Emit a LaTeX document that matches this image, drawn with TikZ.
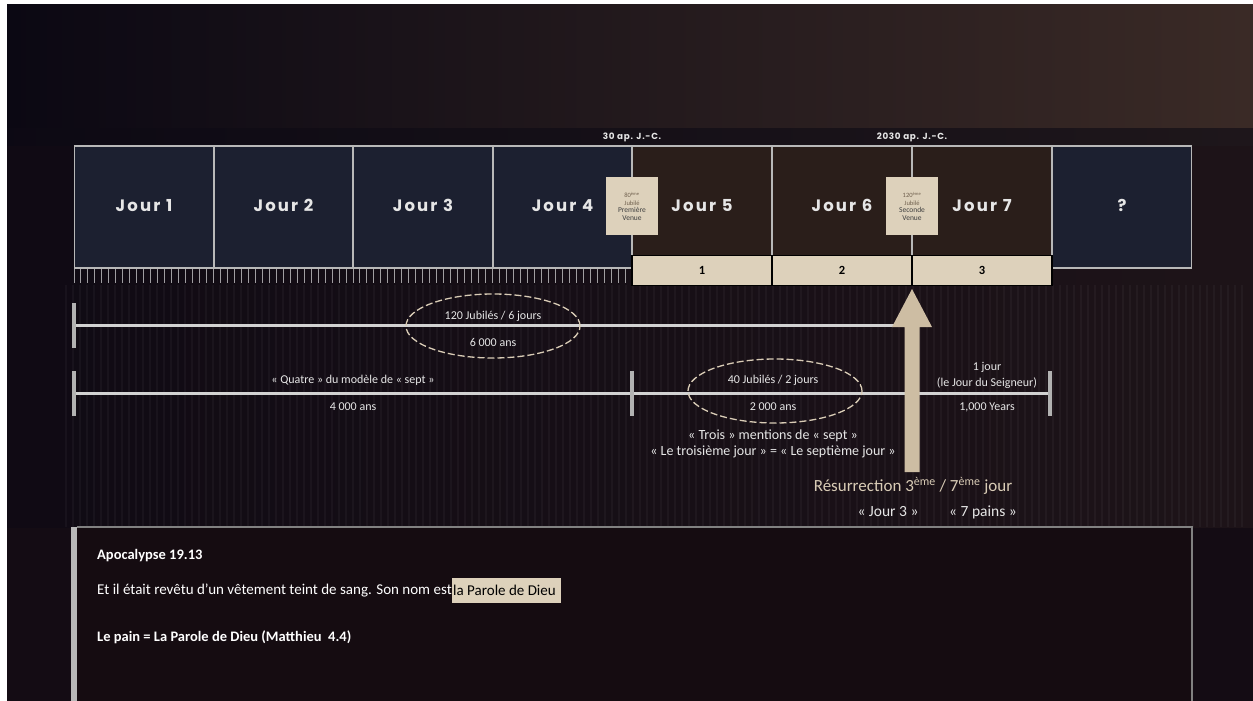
\documentclass[tikz,border=0pt]{standalone}
\usepackage{fontspec}
\setmainfont{Carlito}
\newfontfamily\jourfont[LetterSpace=13]{Poppins}
\newfontfamily\datefont[LetterSpace=8]{Poppins}
\definecolor{bgmain}{HTML}{140C14}
\definecolor{bgleft}{HTML}{0B0813}
\definecolor{bgright}{HTML}{3A2A26}
\definecolor{bandc}{HTML}{120E16}
\definecolor{navyc}{HTML}{1C2030}
\definecolor{brownc}{HTML}{2A1E1A}
\definecolor{framec}{HTML}{B8B8B8}
\definecolor{tanc}{HTML}{DDD1BB}
\definecolor{arrowc}{HTML}{CDBDA3}
\definecolor{txtc}{HTML}{E6E6E6}
\definecolor{resc}{HTML}{D9CCB6}
\definecolor{linec}{HTML}{D2D2D2}
\definecolor{panelc}{HTML}{150C11}
\definecolor{smalltxt}{HTML}{6E5E4C}
\tikzset{
  daybox/.style={draw=framec, line width=1.6pt, minimum width=139pt, minimum height=122pt, inner sep=0pt},
  jourlabel/.style={text=txtc, text height=12pt, text depth=4pt, font=\jourfont\bfseries\fontsize{16.5}{19}\selectfont},
  venuebox/.style={fill=tanc, minimum width=52pt, minimum height=58pt, inner sep=1pt, align=center, text=smalltxt, font=\fontsize{6.5}{7.5}\selectfont},
  numbox/.style={draw=black, fill=tanc, line width=1.4pt, minimum width=140pt, minimum height=30pt, inner sep=0pt, font=\bfseries\fontsize{12.5}{14}\selectfont},
  datelabel/.style={text=txtc, font=\datefont\bfseries\fontsize{8.8}{10}\selectfont},
  lbl/.style={text=txtc, font=\fontsize{12}{14}\selectfont, inner sep=0pt},
  midlbl/.style={text=txtc, font=\fontsize{14}{16}\selectfont, inner sep=0pt},
  timeline/.style={draw=linec, line width=3pt},
  endtick/.style={draw=linec!85!black, line width=3.5pt},
  jubel/.style={draw=resc, line width=1.3pt, dash pattern=on 7pt off 3pt, ellipse, minimum width=174pt, minimum height=64pt},
  paneltxt/.style={text=white, anchor=west, inner sep=0pt},
}
\usetikzlibrary{shapes.geometric}
\begin{document}
\begin{tikzpicture}[x=1pt,y=-1pt]
\useasboundingbox (0,0) rectangle (1253,701);
% background
\fill[white] (0,0) rectangle (1253,701);
\fill[bgmain] (7,5) rectangle (1253,701);
\shade[left color=bgleft, right color=bgright] (7,5) rectangle (1253,128);
\shade[left color=bgleft!80!bandc, right color=bandc!70!bgright] (7,128) rectangle (1253,146);
\shade[left color=bgleft!50!bgmain, right color=bgmain!75!bgright] (7,146) rectangle (1253,527);
% faint vertical stripes
\foreach \i in {0,...,168} \draw[white, opacity=0.035, line width=1.6pt] ({66+\i*7},285) -- ++(0,242);
% day boxes
\node[daybox, fill=navyc] (d1) at (144,207) {};
\node[daybox, fill=navyc] (d2) at (283.5,207) {};
\node[daybox, fill=navyc] (d3) at (423,207) {};
\node[daybox, fill=navyc] (d4) at (562.5,207) {};
\node[daybox, fill=brownc] (d5) at (702,207) {};
\node[daybox, fill=brownc] (d6) at (842,207) {};
\node[daybox, fill=brownc] (d7) at (982,207) {};
\node[daybox, fill=navyc] (dq) at (1122,207) {};
\node[jourlabel] (j1) at (d1) {Jour 1};
\node[jourlabel] (j2) at (d2) {Jour 2};
\node[jourlabel] (j3) at (d3) {Jour 3};
\node[jourlabel] (j4) at (d4) {Jour 4};
\node[jourlabel] (j5) at (d5) {Jour 5};
\node[jourlabel] (j6) at (d6) {Jour 6};
\node[jourlabel] (j7) at (d7) {Jour 7};
\node[jourlabel] (jq) at (dq) {?};
% date labels
\node[datelabel] (t30) at (632,137) {30 ap. J.-C.};
\node[datelabel] (t2030) at (912,137) {2030 ap. J.-C.};
% venue boxes
\node[venuebox] (v1) at (632,206) {80\textsuperscript{ème}\\Jubilé\\{\color{black!75}\fontsize{7.5}{8.5}\selectfont Première}\\{\color{black!75}\fontsize{7.5}{8.5}\selectfont Venue}};
\node[venuebox] (v2) at (912,206) {120\textsuperscript{ème}\\Jubilé\\{\color{black!75}\fontsize{7.5}{8.5}\selectfont Seconde}\\{\color{black!75}\fontsize{7.5}{8.5}\selectfont Venue}};
% jubilee ticks
\foreach \i in {0,...,80} \draw[white, opacity=0.6, line width=1pt] ({74+\i*6.975},269) -- ++(0,14);
% numbered boxes
\node[numbox] (n1) at (702,270.5) {1};
\node[numbox] (n2) at (842,270.5) {2};
\node[numbox] (n3) at (982,270.5) {3};
% timeline 1
\coordinate (a1) at (74,325);
\coordinate (a2) at (912,325);
\draw[timeline] (a1) -- (a2);
\draw[endtick] (74,303) -- (74,348);
\node[jubel] (e1) at (493,326) {};
\node[lbl] (e1a) at (493,316) {120 Jubilés / 6 jours};
\node[lbl] (e1b) at (493,342) {6 000 ans};
% timeline 2
\coordinate (b1) at (74,393);
\coordinate (b2) at (632,393);
\coordinate (b3) at (1050,393);
\draw[timeline] (b1) -- (b3);
\draw[endtick] (74,371) -- (74,416);
\draw[endtick] (632,371) -- (632,416);
\draw[endtick] (1050,371) -- (1050,416);
\node[lbl] (q1) at (353,380) {« Quatre » du modèle de « sept »};
\node[lbl] (q2) at (353,407) {4 000 ans};
\node[jubel] (e2) at (775,391) {};
\node[lbl] (e2a) at (773,380) {40 Jubilés / 2 jours};
\node[lbl] (e2b) at (773,407) {2 000 ans};
\node[lbl] (s1) at (987,367) {1 jour};
\node[lbl] (s2) at (987,383) {(le Jour du Seigneur)};
\node[lbl] (s3) at (987,407) {1,000 Years};
\node[midlbl] (m1) at (773,436) {« Trois » mentions de « sept »};
\node[midlbl] (m2) at (773,452) {« Le troisième jour » = « Le septième jour »};
% arrow
\coordinate (ar0) at (912,472);
\coordinate (ar1) at (912,289);
\fill[arrowc] (904.5,472) -- (904.5,327) -- (892,327) -- (ar1) -- (932,327) -- (919.5,327) -- (919.5,472) -- cycle;
\node[text=resc, font=\fontsize{17}{20}\selectfont, inner sep=0pt] (res) at (913,486) {Résurrection 3\textsuperscript{ème} / 7\textsuperscript{ème} jour};
\node[midlbl, font=\fontsize{15.5}{18}\selectfont] (k1) at (888,512) {« Jour 3 »};
\node[midlbl, font=\fontsize{15.5}{18}\selectfont] (k2) at (983,512) {« 7 pains »};
% bottom panel
\fill[panelc] (77,527) rectangle (1192,701);
\draw[framec!70!black, line width=1.2pt] (77,527) -- (1192,527) -- (1192,701);
\fill[framec] (71,527) rectangle (77,701);
\node[paneltxt, font=\bfseries\fontsize{14.5}{17}\selectfont] (p1) at (97,556) {Apocalypse 19.13};
\node[paneltxt, font=\fontsize{15}{18}\selectfont] (p2) at (97,590) {Et il était revêtu d’un vêtement teint de sang. Son nom est};
\node[fill=tanc, text=black, anchor=west, inner xsep=1pt, minimum height=25pt, font=\fontsize{15}{18}\selectfont] (p3) at (p2.east) {la Parole de Dieu\textcolor{tanc}{.}};
\node[paneltxt, font=\bfseries\fontsize{14.5}{17}\selectfont] (p4) at (97,637) {Le pain = La Parole de Dieu (Matthieu~ 4.4)};
\end{tikzpicture}
\end{document}
